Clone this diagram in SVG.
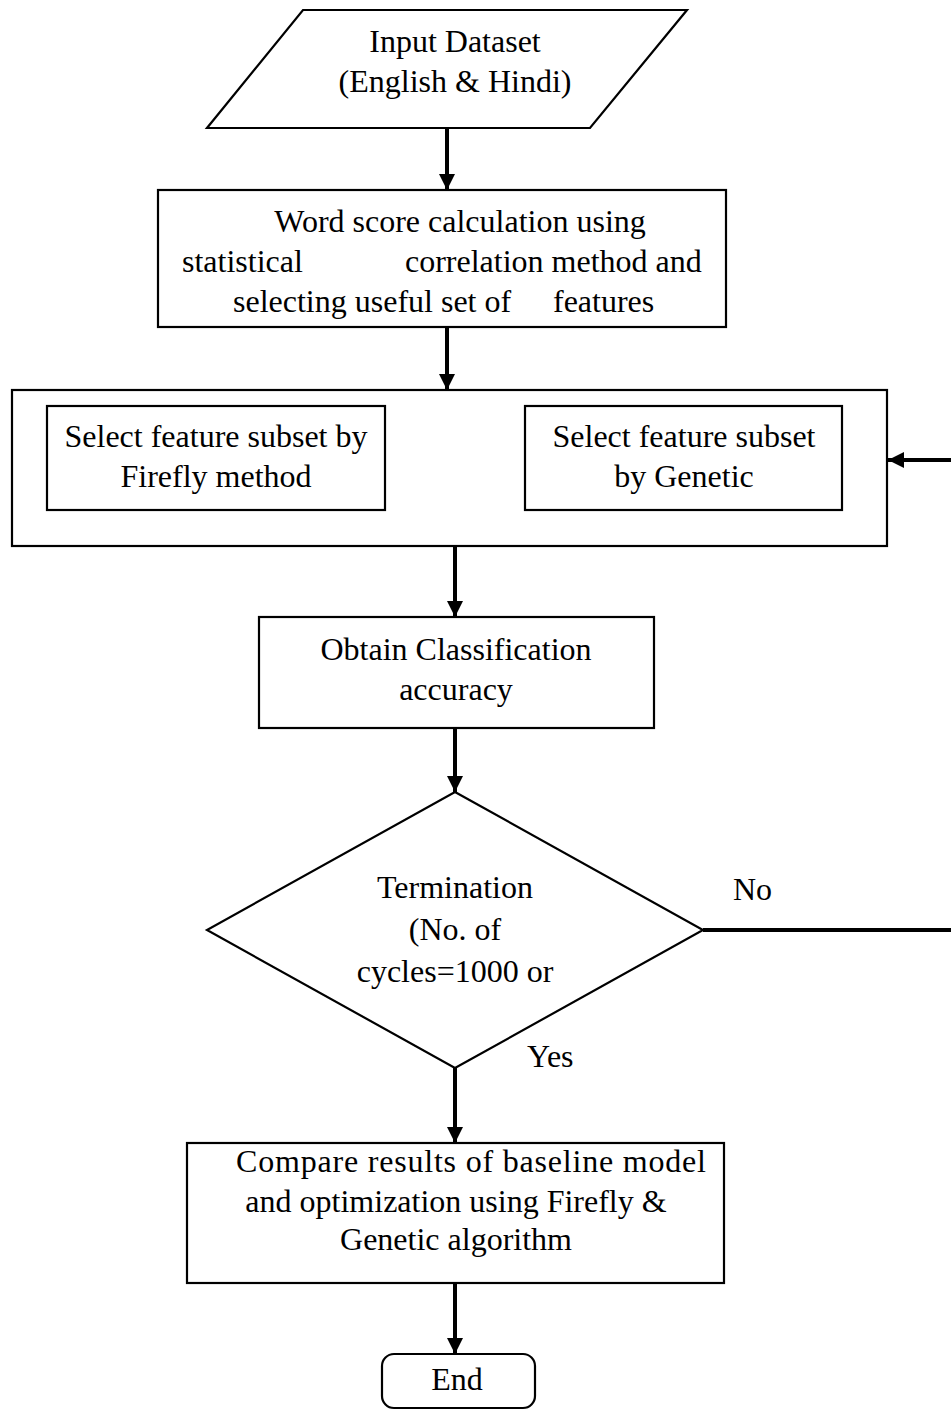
<svg xmlns="http://www.w3.org/2000/svg" width="951" height="1410" viewBox="0 0 951 1410">
<style>
.s{fill:#fff;stroke:#000;stroke-width:2.2}
.t{font-family:"Liberation Serif","Times New Roman",serif;font-size:32px;fill:#000}
.c{text-anchor:middle}
.w{fill:none;stroke:#000;stroke-width:4}
</style>
<defs>
<marker id="ah" markerUnits="userSpaceOnUse" markerWidth="16" markerHeight="18" viewBox="0 0 16 18" refX="16" refY="9" orient="auto">
<path d="M0,1 L16,9 L0,17 Z" fill="#000"/>
</marker>
</defs>
<rect width="951" height="1410" fill="#fff"/>
<g id="connectors">
<line class="w" x1="447" y1="128" x2="447" y2="190" marker-end="url(#ah)"/>
<line class="w" x1="447" y1="327" x2="447" y2="390" marker-end="url(#ah)"/>
<line class="w" x1="455" y1="546" x2="455" y2="617" marker-end="url(#ah)"/>
<line class="w" x1="455" y1="728" x2="455" y2="792" marker-end="url(#ah)"/>
<line class="w" x1="703" y1="930" x2="951" y2="930"/>
<line class="w" x1="951" y1="460" x2="888" y2="460" marker-end="url(#ah)"/>
<line class="w" x1="455" y1="1068" x2="455" y2="1143" marker-end="url(#ah)"/>
<line class="w" x1="455" y1="1283" x2="455" y2="1354" marker-end="url(#ah)"/>
<text class="t" x="733" y="900">No</text>
<text class="t" x="527" y="1067">Yes</text>
</g>
<g id="input">
<polygon class="s" points="303,10 687,10 590,128 207,128"/>
<text class="t c" x="455" y="52">Input Dataset</text>
<text class="t c" x="455" y="92">(English &amp; Hindi)</text>
</g>
<g id="wordscore">
<rect class="s" x="158" y="190" width="568" height="137"/>
<text class="t c" x="460" y="232">Word score calculation using</text>
<text class="t" x="182" y="272">statistical</text>
<text class="t" x="405" y="272">correlation method and</text>
<text class="t" x="233" y="312">selecting useful set of</text>
<text class="t" x="553" y="312">features</text>
</g>
<g id="featureselect">
<rect class="s" x="12" y="390" width="875" height="156"/>
</g>
<g id="firefly">
<rect class="s" x="47" y="406" width="338" height="104"/>
<text class="t c" x="216" y="447">Select feature subset by</text>
<text class="t c" x="216" y="487">Firefly method</text>
</g>
<g id="genetic">
<rect class="s" x="525" y="406" width="317" height="104"/>
<text class="t c" x="684" y="447">Select feature subset</text>
<text class="t c" x="684" y="487">by Genetic</text>
</g>
<g id="accuracy">
<rect class="s" x="259" y="617" width="395" height="111"/>
<text class="t c" x="456" y="660">Obtain Classification</text>
<text class="t c" x="456" y="700">accuracy</text>
</g>
<g id="termination">
<polygon class="s" points="455,792 703,930 455,1068 207,930"/>
<text class="t c" x="455" y="898">Termination</text>
<text class="t c" x="455" y="940">(No. of</text>
<text class="t c" x="455" y="982">cycles=1000 or</text>
</g>
<g id="compare">
<rect class="s" x="187" y="1143" width="537" height="140"/>
<text class="t c" x="471" y="1172" textLength="470" lengthAdjust="spacing">Compare results of baseline model</text>
<text class="t c" x="456" y="1212">and optimization using Firefly &amp;</text>
<text class="t c" x="456" y="1250">Genetic algorithm</text>
</g>
<g id="end">
<rect class="s" x="382" y="1354" width="153" height="54" rx="12"/>
<text class="t c" x="457" y="1390">End</text>
</g>
</svg>
